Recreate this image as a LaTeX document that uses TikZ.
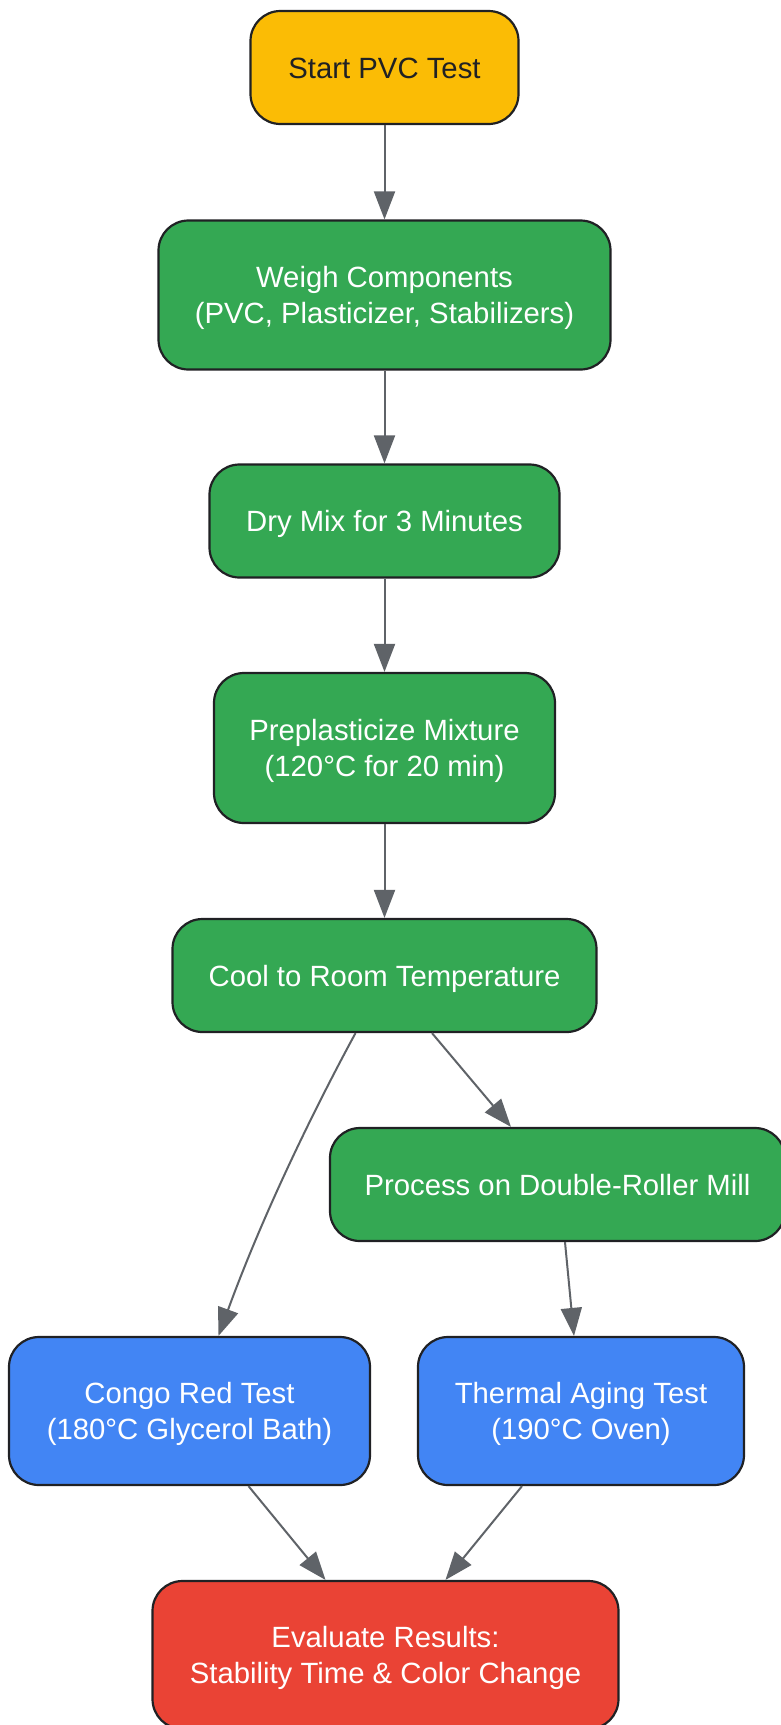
\documentclass[tikz,border=0pt]{standalone}
\usepackage{fontspec}
\setmainfont{Liberation Sans}
\usetikzlibrary{arrows.meta,calc}
\definecolor{cyellow}{HTML}{FBBC05}
\definecolor{cgreen}{HTML}{34A853}
\definecolor{cblue}{HTML}{4285F4}
\definecolor{cred}{HTML}{EA4335}
\definecolor{cborder}{HTML}{202124}
\definecolor{cedge}{HTML}{5F6368}
\newcommand\mystrut{\rule{0pt}{28pt}}
\begin{document}
\begin{tikzpicture}[x=1pt,y=-1pt,
  box/.style={draw=cborder, line width=2.2pt, rounded corners=30pt, align=center,
    font=\fontsize{29.3}{36}\selectfont, inner sep=0pt, text=white},
  oneline/.style={text height=21pt, text depth=0pt},
  edge/.style={draw=cedge, line width=2pt, -{Triangle[length=28pt,width=21pt]}}]
\useasboundingbox (0,0) rectangle (781,1725);
\node[box, oneline, fill=cyellow, text=cborder, minimum width=268pt, minimum height=113pt] (start) at (384.5,67.5) {Start PVC Test};
\node[box, fill=cgreen, minimum width=452pt, minimum height=149pt] (weigh) at (384.5,295) {\mystrut Weigh Components\\(PVC, Plasticizer, Stabilizers)};
\node[box, oneline, fill=cgreen, minimum width=350pt, minimum height=113pt] (dry) at (384.5,521) {Dry Mix for 3 Minutes};
\node[box, fill=cgreen, minimum width=341pt, minimum height=150pt] (prep) at (384.5,748) {\mystrut Preplasticize Mixture\\(120°C for 20 min)};
\node[box, oneline, fill=cgreen, minimum width=424pt, minimum height=113pt] (cool) at (384.5,975.5) {Cool to Room Temperature};
\node[box, oneline, fill=cgreen, minimum width=455pt, minimum height=113pt] (proc) at (557.5,1184.5) {Process on Double-Roller Mill};
\node[box, fill=cblue, minimum width=361pt, minimum height=148pt] (congo) at (189.5,1411) {\mystrut Congo Red Test\\(180°C Glycerol Bath)};
\node[box, fill=cblue, minimum width=326pt, minimum height=148pt] (therm) at (581,1411) {\mystrut Thermal Aging Test\\(190°C Oven)};
\node[box, fill=cred, minimum width=466pt, minimum height=148pt] (eval) at (385.5,1655) {\mystrut Evaluate Results:\\Stability Time \& Color Change};
\draw[edge] (start) -- (weigh);
\draw[edge] (weigh) -- (dry);
\draw[edge] (dry) -- (prep);
\draw[edge] (prep) -- (cool);
\draw[edge] ($(cool.south)+(-29,0)$) .. controls (330,1080) and (270,1195) .. ($(congo.north)+(29,0)$);
\draw[edge] ($(cool.south)+(47.5,0)$) -- ($(proc.north)+(-46.5,0)$);
\draw[edge] ($(proc.south)+(7.5,0)$) -- ($(therm.north)+(-7,0)$);
\draw[edge] ($(congo.south)+(59,0)$) -- ($(eval.north)+(-60,0)$);
\draw[edge] ($(therm.south)+(-59,0)$) -- ($(eval.north)+(60,0)$);
\end{tikzpicture}
\end{document}
